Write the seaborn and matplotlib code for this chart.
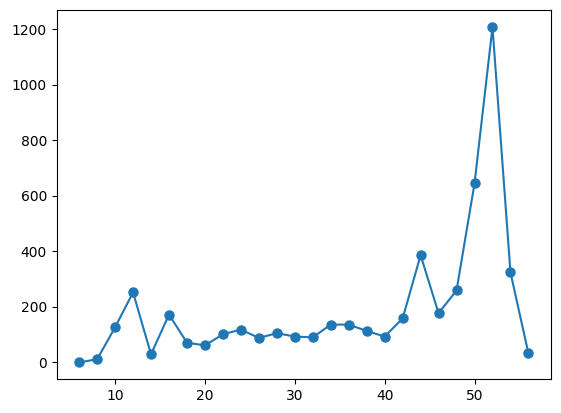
import matplotlib
matplotlib.use("Agg")
import matplotlib.pyplot as plt
import seaborn as sns
import pandas as pd

x_values = [6, 8, 10, 12, 14, 16, 18, 20, 22, 24, 26, 28, 30, 32, 34, 36, 38, 40, 42, 44, 46, 48, 50, 52, 54, 56]
y_values = [0, 11, 126, 252, 29, 172, 71, 61, 101, 118, 88, 105, 93, 90, 136, 136, 113, 93, 158, 386, 177, 259, 644, 1207, 324, 32]

df = pd.DataFrame({"x": x_values, "y": y_values})

fig = plt.figure(figsize=(5.61, 4.13), dpi=100)
ax = fig.add_axes([0.101, 0.082, 0.881, 0.893])
color = "#1f77b4"
sns.lineplot(data=df, x="x", y="y", marker="o", markersize=6.5, color=color,
             markeredgecolor=color, markeredgewidth=1, linewidth=1.5, ax=ax)
ax.set_xlabel("")
ax.set_ylabel("")
ax.set_xticks([10, 20, 30, 40, 50])
ax.set_yticks([0, 200, 400, 600, 800, 1000, 1200])
fig.savefig("out.png", dpi=100)
